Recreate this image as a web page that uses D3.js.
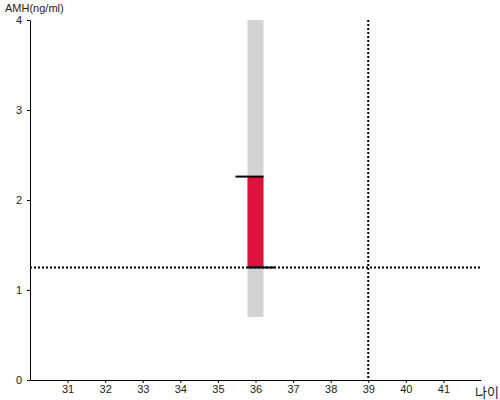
<!DOCTYPE html>
<html>
<head>
<meta charset="utf-8">
<script src="https://cdn.jsdelivr.net/npm/d3@7"></script>
<style>
  body { margin: 0; background: #fff; }
  text { font-family: Arial, "Liberation Sans", sans-serif; font-size: 11px; fill: #222; }
</style>
</head>
<body>
<svg id="chart" width="500" height="400"></svg>
<script>
// reference ranges for the age group
var ageTicks = [31, 32, 33, 34, 35, 36, 37, 38, 39, 40, 41];
var amhTicks = [0, 1, 2, 3, 4];
var refRange = {age: 36, low: 0.7, high: 4};
var patient = {age: 36, low: 1.25, high: 2.26};
var cutoffAmh = 1.25;
var cutoffAge = 39;

var svg = d3.select("#chart");
var plotLeft = 30, plotRight = 481, plotTop = 20, plotBottom = 380;

var x = d3.scaleLinear().domain([30, 42]).range([plotLeft, plotRight]);
var y = d3.scaleLinear().domain([0, 4]).range([plotBottom, plotTop]);
var barW = 16;

// grey reference band
svg.append("rect")
    .attr("x", x(refRange.age) - barW / 2)
    .attr("y", y(refRange.high))
    .attr("width", barW)
    .attr("height", y(refRange.low) - y(refRange.high))
    .attr("fill", "#d3d3d3");

// red patient bar
svg.append("rect")
    .attr("x", x(patient.age) - barW / 2)
    .attr("y", y(patient.high))
    .attr("width", barW)
    .attr("height", y(patient.low) - y(patient.high))
    .attr("fill", "#dc143c");

// dotted cutoffs
svg.append("line")
    .attr("x1", plotLeft).attr("x2", plotRight)
    .attr("y1", y(cutoffAmh)).attr("y2", y(cutoffAmh))
    .attr("stroke", "#000").attr("stroke-width", 2).attr("stroke-dasharray", "2,2");
svg.append("line")
    .attr("x1", x(cutoffAge)).attr("x2", x(cutoffAge))
    .attr("y1", plotTop).attr("y2", plotBottom)
    .attr("stroke", "#000").attr("stroke-width", 2).attr("stroke-dasharray", "2,2");

// caps on the patient bar
svg.append("line")
    .attr("x1", x(patient.age) - barW / 2 - 12).attr("x2", x(patient.age) + barW / 2)
    .attr("y1", y(patient.high)).attr("y2", y(patient.high))
    .attr("stroke", "#000").attr("stroke-width", 2);
svg.append("line")
    .attr("x1", x(patient.age) - barW / 2).attr("x2", x(patient.age) + barW / 2 + 12)
    .attr("y1", y(patient.low)).attr("y2", y(patient.low))
    .attr("stroke", "#000").attr("stroke-width", 2);

// axes
var xAxis = d3.axisBottom(x).tickValues(ageTicks).tickSizeInner(3).tickSizeOuter(0).tickPadding(2).tickFormat(d3.format("d"));
var yAxis = d3.axisLeft(y).tickValues(amhTicks).tickSizeInner(3).tickSizeOuter(0).tickPadding(5).tickFormat(d3.format("d"));

var gx = svg.append("g").attr("transform", "translate(0," + plotBottom + ")").call(xAxis);
var gy = svg.append("g").attr("transform", "translate(" + plotLeft + ",0)").call(yAxis);
[gx, gy].forEach(function (g) {
    g.select(".domain").attr("stroke", "#000").attr("stroke-width", 1);
    g.selectAll(".tick line").attr("stroke", "#000");
    g.selectAll("text").attr("font-family", "Arial, 'Liberation Sans', sans-serif").attr("font-size", 11).attr("fill", "#222");
});

svg.append("text").attr("x", 5).attr("y", 12).text("AMH(ng/ml)");
svg.append("text").attr("x", 475).attr("y", 397)
    .style("font-family", "'Noto Sans CJK KR', sans-serif").style("font-size", "13px")
    .text("나이");
</script>
</body>
</html>
